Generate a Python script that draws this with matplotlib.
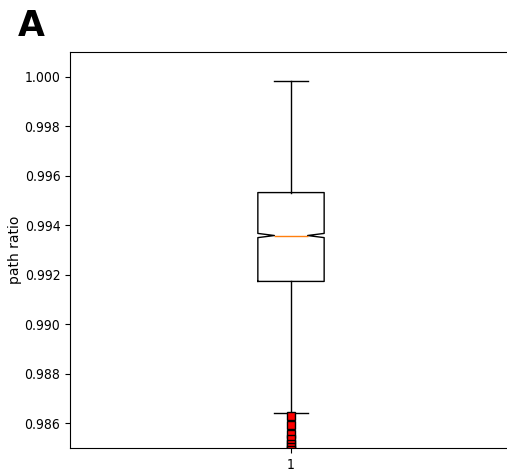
import matplotlib
matplotlib.use("Agg")
import matplotlib.pyplot as plt

# summary values of the box
median = 0.993585
q1 = 0.99173
q3 = 0.99532
whisker_low = 0.98640
whisker_high = 0.99984
notch_low = 0.99350
notch_high = 0.99367
outliers = [0.98630, 0.98594, 0.98558, 0.98535, 0.98518, 0.98505, 0.98490, 0.98470]
y_ticks = [0.986, 0.988, 0.990, 0.992, 0.994, 0.996, 0.998, 1.000]

stats = [{
    "med": median, "q1": q1, "q3": q3,
    "whislo": whisker_low, "whishi": whisker_high,
    "cilo": notch_low, "cihi": notch_high,
    "fliers": outliers, "label": "1",
}]

fig = plt.figure(figsize=(5.07, 4.72), dpi=100)
ax = fig.add_axes([70 / 507, 24 / 472, 442 / 507, 396 / 472])

ax.bxp(stats, shownotches=True,
       flierprops=dict(marker="s", markerfacecolor="red", markeredgecolor="black",
                       markersize=6))
ax.set_ylim(0.985, 1.001)
ax.set_ylabel("path ratio", fontsize=10, labelpad=2)
ax.set_yticks(y_ticks)
for lab in ax.get_yticklabels() + ax.get_xticklabels():
    lab.set_fontstretch("condensed")
    lab.set_fontsize(10)

fig.text(18 / 507, 1 - 36 / 472, "A", fontsize=25, fontweight="bold")

fig.savefig("out.png", dpi=100)
